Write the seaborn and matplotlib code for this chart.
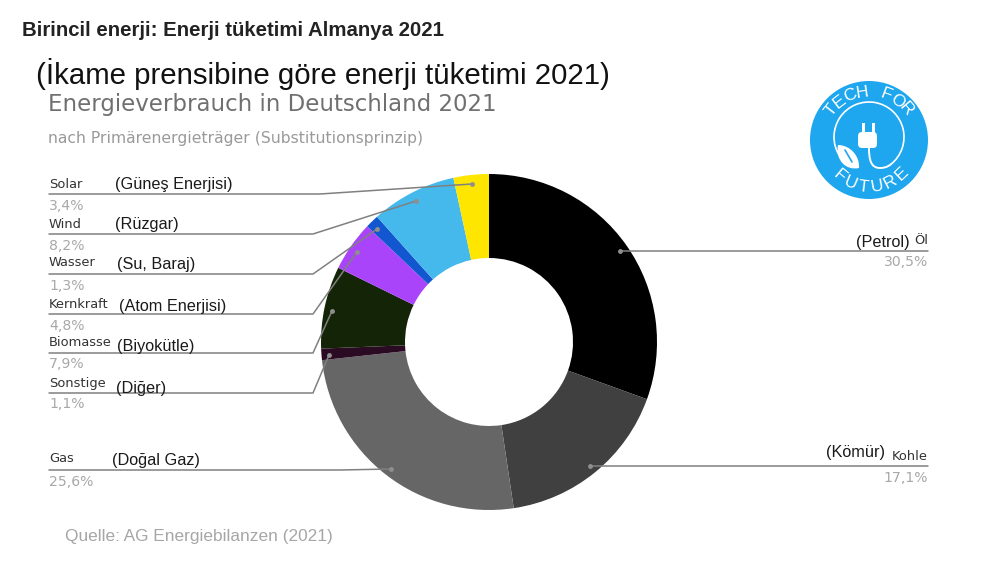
import numpy as np
import matplotlib
matplotlib.use("Agg")
import matplotlib.pyplot as plt
from matplotlib.patches import Arc, Circle, FancyBboxPatch, PathPatch, Rectangle
from matplotlib.path import Path
import seaborn as sns

# Data, clockwise from the top
sources = ["(Petrol) Öl", "Kohle", "Gas", "Sonstige", "Biomasse", "Kernkraft", "Wasser", "Wind", "Solar"]
turkish = ["", "(Kömür)", "(Doğal Gaz)", "(Diğer)", "(Biyokütle)", "(Atom Enerjisi)", "(Su, Baraj)", "(Rüzgar)", "(Güneş Enerjisi)"]
shares = [30.5, 17.1, 25.6, 1.1, 7.9, 4.8, 1.3, 8.2, 3.4]

sns.set_theme(style="white")
plt.rcParams["font.family"] = ["DejaVu Sans"]
palette = sns.color_palette(["#000000", "#404040", "#666666", "#2b0a24", "#142407",
                             "#aa44fb", "#1257cf", "#45b8ec", "#ffe600"])

W, H = 1000, 578
fig = plt.figure(figsize=(W / 100, H / 100), dpi=100)
ax = fig.add_axes([0, 0, 1, 1])


def py(y):
    # picture rows run downwards
    return H - y


def pt(px):
    return px * 0.72


ax.pie(shares, colors=palette, startangle=90, counterclock=False, center=(489, py(342)),
       radius=168, wedgeprops=dict(width=84, linewidth=0), frame=True)
ax.set_xlim(0, W)
ax.set_ylim(0, H)
ax.set_aspect("equal")
ax.axis("off")

# Headings
ax.text(22, py(30), "Birincil enerji: Enerji tüketimi Almanya 2021", family="Liberation Sans",
        weight="bold", fontsize=pt(20.4), color="#222222", va="center")
ax.text(36, py(74), "(İkame prensibine göre enerji tüketimi 2021)", family="Liberation Sans",
        fontsize=pt(29.4), color="#111111", va="center")
ax.text(48, py(104), "Energieverbrauch in Deutschland 2021", fontsize=pt(22.9), color="#707070", va="center")
ax.text(48, py(139), "nach Primärenergieträger (Substitutionsprinzip)", fontsize=pt(15.6), color="#9a9a9a", va="center")
ax.text(65, py(536), "Quelle: AG Energiebilanzen (2021)", family="Liberation Sans",
        fontsize=pt(17.2), color="#a6a6a6", va="center")

# Leader lines: label row, elbow x, end of the line inside the slice
leaders = {
    "Solar": (194, 320, 472, 184),
    "Wind": (234, 313, 416, 201),
    "Wasser": (274, 313, 377, 229),
    "Kernkraft": (314, 313, 357, 252),
    "Biomasse": (353, 313, 332, 311),
    "Sonstige": (393, 313, 329, 355),
    "Gas": (470, 340, 391, 469),
}
tr_x = {"Solar": 115, "Wind": 115, "Wasser": 117, "Kernkraft": 119, "Biomasse": 117, "Sonstige": 116, "Gas": 112}
tr_y = {"Solar": 184, "Wind": 224, "Wasser": 264, "Kernkraft": 306, "Biomasse": 346, "Sonstige": 388, "Gas": 460}
lab_y = {"Solar": 184, "Wind": 224, "Wasser": 263, "Kernkraft": 304, "Biomasse": 343, "Sonstige": 383, "Gas": 459}
line_col = "#808080"

for name, tr, share in zip(sources, turkish, shares):
    if name not in leaders:
        continue
    row, elbow, ex, ey = leaders[name]
    ax.plot([49, elbow, ex], [py(row), py(row), py(ey)], color=line_col, lw=1.1, solid_joinstyle="round")
    ax.plot([ex], [py(ey)], "o", ms=3.5, color="#8f8f8f", mew=0)
    ax.text(49, py(lab_y[name]), name, fontsize=pt(13), color="#333333", va="center")
    ax.text(tr_x[name], py(tr_y[name]), tr, family="Liberation Sans", fontsize=pt(16.2), color="#1a1a1a", va="center")
    ax.text(49, py(row + 11.5), f"{share:.1f}%".replace(".", ","), fontsize=pt(14), color="#a8a8a8", va="center")

# Right-hand labels
ax.plot([928, 620], [py(251), py(251)], color=line_col, lw=1.1)
ax.plot([620], [py(251)], "o", ms=3.5, color="#8f8f8f", mew=0)
ax.text(856, py(242), "(Petrol)", family="Liberation Sans", fontsize=pt(16.2), color="#1a1a1a", va="center")
ax.text(928, py(241), "Öl", fontsize=pt(13), color="#333333", va="center", ha="right")
ax.text(928, py(262), f"{shares[0]:.1f}%".replace(".", ","), fontsize=pt(14), color="#a8a8a8", va="center", ha="right")

ax.plot([928, 590], [py(466), py(466)], color=line_col, lw=1.1)
ax.plot([590], [py(466)], "o", ms=3.5, color="#8f8f8f", mew=0)
ax.text(826, py(453), turkish[1], family="Liberation Sans", fontsize=pt(16.2), color="#1a1a1a", va="center")
ax.text(928, py(456), sources[1], fontsize=pt(13), color="#333333", va="center", ha="right")
ax.text(928, py(478), f"{shares[1]:.1f}%".replace(".", ","), fontsize=pt(14), color="#a8a8a8", va="center", ha="right")

# Logo
cx, cy, blue = 869, py(140), "#1ea6ee"
ax.add_patch(Circle((cx, cy), 59, color=blue, lw=0, zorder=3))


def arc_text(txt, start, step, radius, top=True):
    # letters one at a time round the badge
    for i, ch in enumerate(txt):
        a = np.deg2rad(start + (-step if top else step) * i)
        rot = np.rad2deg(a) - 90 if top else np.rad2deg(a) + 90
        ax.text(cx + radius * np.cos(a), cy + radius * np.sin(a), ch, color="white", fontsize=pt(17.5),
                family="Liberation Sans", ha="center", va="center", rotation=rot, zorder=5)


arc_text("TECH FOR", 142, 14.6, 48)
arc_text("FUTURE", 230.5, 16.6, 47, top=False)

# cord, plug and leaf
ax.add_patch(Arc((cx, py(137)), 70, 70, theta1=-52, theta2=212, color="white", lw=1.2, zorder=4))
cord = Path([(869, py(148)), (869, py(160)), (871, py(168)), (880, py(168)), (887, py(168)), (890, py(165)), (891, py(164))],
            [Path.MOVETO, Path.CURVE4, Path.CURVE4, Path.CURVE4, Path.CURVE4, Path.CURVE4, Path.CURVE4])
ax.add_patch(PathPatch(cord, fc="none", ec="white", lw=1.4, zorder=4))
ax.add_patch(FancyBboxPatch((858, py(148)), 19, 16, boxstyle="round,pad=0,rounding_size=4", fc="white", ec="none", zorder=4))
ax.add_patch(Rectangle((861.5, py(133)), 3, 10, fc="white", ec="none", zorder=4))
ax.add_patch(Rectangle((871.5, py(133)), 3, 10, fc="white", ec="none", zorder=4))
leaf = Path([(838, py(145)), (835, py(160)), (846, py(171)), (859, py(168)), (860, py(156)), (850, py(145)), (838, py(145)), (838, py(145))],
            [Path.MOVETO, Path.CURVE4, Path.CURVE4, Path.CURVE4, Path.CURVE4, Path.CURVE4, Path.CURVE4, Path.CLOSEPOLY])
ax.add_patch(PathPatch(leaf, fc="white", ec="none", zorder=4))
ax.plot([845, 852], [py(150), py(162)], color=blue, lw=1.2, zorder=5)

fig.savefig("out.png", dpi=100, facecolor="white")
